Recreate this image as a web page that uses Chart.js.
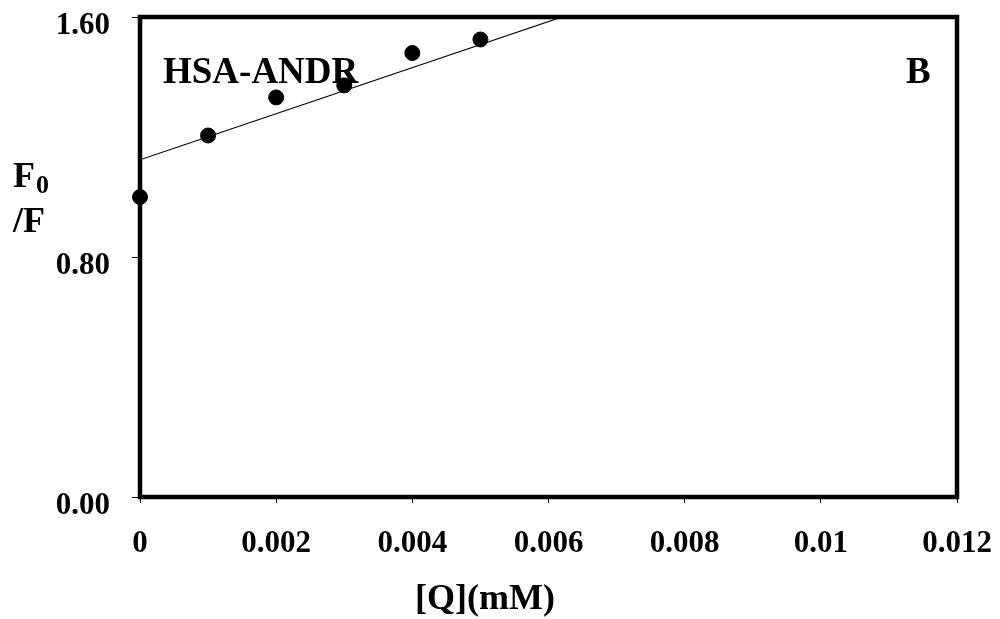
<html>
<head>
  <script src="https://cdn.jsdelivr.net/npm/chart.js@4.4.0/dist/chart.umd.min.js"></script>
</head>

<body style="padding: 0; margin: 0; background: #fff;">

<canvas id="chart" width="1000" height="619"></canvas>

<script>
  const serif = '"Liberation Serif", "Times New Roman", serif'

  // measured data, F0/F against quencher concentration
  const conc = [0, 0.001, 0.002, 0.003, 0.004, 0.005]
  const f0f = [1.00, 1.205, 1.332, 1.372, 1.48, 1.525]

  // fitted line end points
  const fitX = [0, 0.0062]
  const fitY = [1.124, 1.6]

  const xTicks = [0, 0.002, 0.004, 0.006, 0.008, 0.01, 0.012]
  const xTickLabels = ['0', '0.002', '0.004', '0.006', '0.008', '0.01', '0.012']
  const yTicks = [0, 0.8, 1.6]
  const yTickLabels = ['0.00', '0.80', '1.60']

  const boxAndText = {
    id: 'boxAndText',
    beforeDatasetsDraw(chart) {
      const {ctx, chartArea: a} = chart
      ctx.save()
      ctx.strokeStyle = '#000'
      ctx.lineWidth = 4.5
      ctx.strokeRect(a.left, a.top, a.right - a.left, a.bottom - a.top)
      ctx.restore()
    },
    afterDraw(chart) {
      const {ctx, chartArea: a} = chart
      ctx.save()
      ctx.fillStyle = '#000'
      ctx.textBaseline = 'alphabetic'
      ctx.textAlign = 'left'
      ctx.font = 'bold 37px ' + serif
      ctx.fillText('HSA-ANDR', a.left + 23, a.top + 66)
      ctx.fillText('B', a.right - 51, a.top + 66)
      // y title, F0 over /F
      ctx.font = 'bold 36px ' + serif
      ctx.fillText('F', 13, 187)
      ctx.fillText('/F', 13, 232)
      ctx.font = 'bold 26px ' + serif
      ctx.fillText('0', 36, 193)
      // x title
      ctx.font = 'bold 36px ' + serif
      ctx.fillText('[Q](mM)', 415, 609)
      ctx.restore()
    }
  }

  new Chart(document.getElementById('chart').getContext('2d'), {
    type: 'scatter',
    data: {
      datasets: [
        {
          label: 'points',
          data: conc.map((x, i) => ({x: x, y: f0f[i]})),
          backgroundColor: '#000',
          borderColor: '#000',
          pointRadius: 7.5,
          pointHoverRadius: 7.5,
          clip: false,
        },
        {
          label: 'fit',
          data: fitX.map((x, i) => ({x: x, y: fitY[i]})),
          showLine: true,
          borderColor: '#000',
          borderWidth: 1.2,
          pointRadius: 0,
          clip: 0,
        },
      ]
    },
    options: {
      responsive: false,
      animation: false,
      devicePixelRatio: 1,
      layout: {autoPadding: false, padding: {top: 17, right: 43, bottom: 0, left: 0}},
      plugins: {legend: {display: false}, tooltip: {enabled: false}},
      scales: {
        x: {
          type: 'linear',
          min: 0,
          max: 0.012,
          afterFit: scale => {
            scale.height = 122
            scale.paddingLeft = 0
            scale.paddingRight = 0
          },
          afterBuildTicks: scale => { scale.ticks = xTicks.map(v => ({value: v})) },
          grid: {drawOnChartArea: false, drawTicks: true, tickLength: 6, color: '#000', lineWidth: 1},
          border: {display: false},
          ticks: {
            color: '#000',
            padding: 22,
            maxRotation: 0,
            font: {family: serif, size: 31, weight: 'bold'},
            callback: (v, i) => xTickLabels[i],
          },
        },
        y: {
          min: 0,
          max: 1.6,
          afterFit: scale => {
            scale.width = 140
            scale.paddingTop = 0
            scale.paddingBottom = 0
          },
          afterBuildTicks: scale => { scale.ticks = yTicks.map(v => ({value: v})) },
          grid: {drawOnChartArea: false, drawTicks: true, tickLength: 8, color: '#000', lineWidth: 1},
          border: {display: false},
          ticks: {
            color: '#000',
            padding: 22,
            labelOffset: 9,
            font: {family: serif, size: 31, weight: 'bold'},
            callback: (v, i) => yTickLabels[i],
          },
        },
      }
    },
    plugins: [boxAndText]
  })
</script>
</body>
</html>
